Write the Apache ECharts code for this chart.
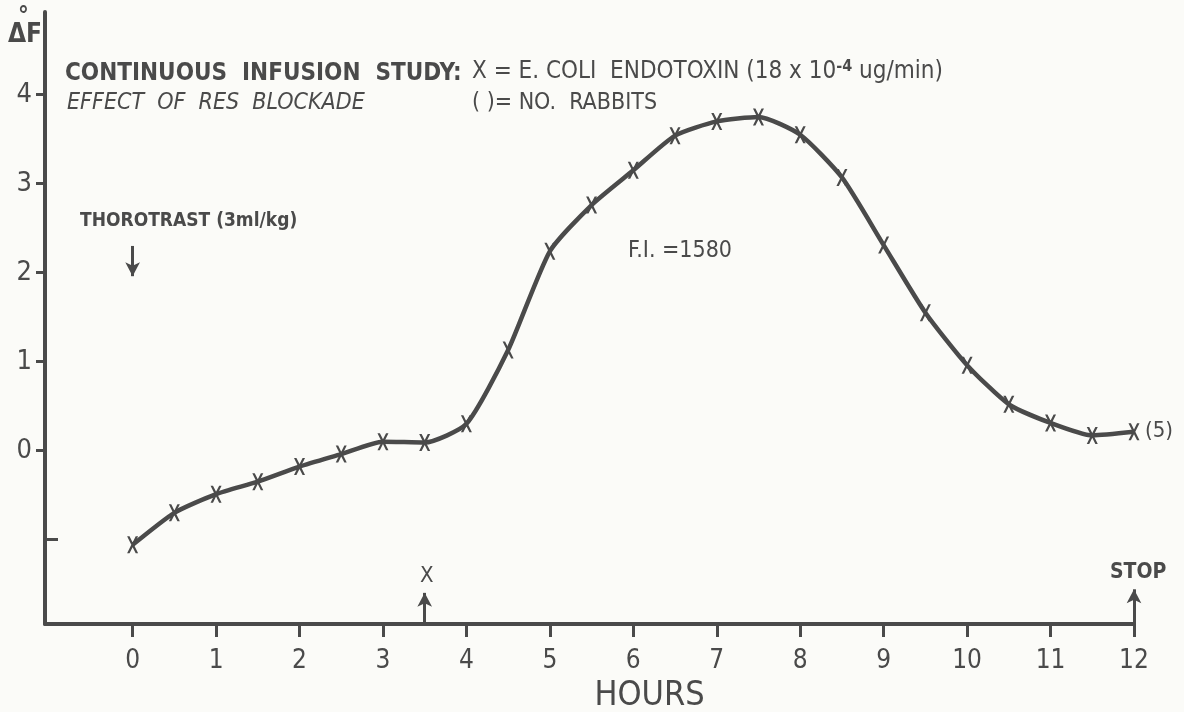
<!DOCTYPE html>
<html>
<head>
<meta charset="utf-8">
<script src="https://cdn.jsdelivr.net/npm/echarts@6/dist/echarts.min.js"></script>
<style>
html,body{margin:0;padding:0;background:#fbfbf8;}
#chart{width:1184px;height:712px;}
</style>
</head>
<body>
<div id="chart"></div>
<script>
// ---- data ----
const hours = [0,0.5,1,1.5,2,2.5,3,3.5,4,4.5,5,5.5,6,6.5,7,7.5,8,8.5,9,9.5,10,10.5,11,11.5,12];
const deltaF = [-1.06,-0.70,-0.49,-0.35,-0.18,-0.04,0.10,0.09,0.30,1.13,2.24,2.76,3.15,3.54,3.70,3.75,3.55,3.07,2.31,1.55,0.96,0.52,0.31,0.17,0.21];
const xTicks = [0,1,2,3,4,5,6,7,8,9,10,11,12];
const yTicks = [0,1,2,3,4];
const yExtraTick = [-1];
const endotoxinStart = 3.5;
const stopHour = 12;
const thorotrastHour = 0;

const INK = '#4a4a4a';
const FONT = "'Liberation Sans Narrow','DejaVu Sans Condensed','Roboto Condensed',Roboto,sans-serif";

const chart = echarts.init(document.getElementById('chart'), null, {renderer:'canvas'});
const Xsym = 'path://M0,0 L2.2,0 L5,5 L7.8,0 L10,0 L6.2,7 L10,14 L7.8,14 L5,9 L2.2,14 L0,14 L3.8,7 Z';

const option = {
  backgroundColor: '#fbfbf8',
  animation: false,
  grid: {left: 45, right: 50, top: 12, bottom: 88, containLabel: false, outerBoundsMode: 'none'},
  xAxis: {
    type: 'value', min: -1.05, max: 12,
    axisLine: {show: true, onZero: false, lineStyle: {color: INK, width: 4}},
    axisTick: {show: true, customValues: xTicks, length: 13, lineStyle: {color: INK, width: 3}},
    axisLabel: {customValues: xTicks, color: INK, fontFamily: FONT, fontSize: 26, margin: 24},
    splitLine: {show: false},
    name: 'HOURS', nameLocation: 'middle', nameGap: 51,
    nameTextStyle: {color: INK, fontFamily: FONT, fontSize: 34, padding: [0,0,0,120]}
  },
  yAxis: [{
    type: 'value', min: -1.95, max: 4.93,
    axisLine: {show: true, onZero: false, lineStyle: {color: INK, width: 4}},
    axisTick: {show: true, customValues: yTicks, length: 9, lineStyle: {color: INK, width: 3}},
    axisLabel: {customValues: yTicks, color: INK, fontFamily: FONT, fontSize: 27, margin: 13},
    splitLine: {show: false}
  },{
    type: 'value', min: -1.95, max: 4.93, position: 'left',
    axisLine: {show: false, onZero: false},
    axisTick: {show: true, inside: true, customValues: yExtraTick, length: 13, lineStyle: {color: INK, width: 3}},
    axisLabel: {show: false},
    splitLine: {show: false}
  }],
  series: [{
    type: 'line',
    data: hours.map((h,i)=>[h, deltaF[i]]),
    smooth: 0.2,
    symbol: Xsym,
    symbolSize: [11, 17],
    showAllSymbol: true,
    lineStyle: {color: INK, width: 4.5},
    itemStyle: {color: INK, borderWidth: 0},
    z: 3,
    markLine: {
      silent: true,
      symbol: ['none','arrow'],
      symbolSize: [11, 14],
      label: {show: false},
      lineStyle: {color: INK, width: 3, type: 'solid'},
      data: [
        [{coord: [endotoxinStart, -1.95]}, {coord: [endotoxinStart, -1.6]}],
        [{coord: [stopHour, -1.95]}, {coord: [stopHour, -1.56]}],
        [{coord: [thorotrastHour, 2.3]}, {coord: [thorotrastHour, 1.96]}]
      ]
    }
  }],
  graphic: [
    {type:'text', left: 18, top: 6, style:{text:'°', font:`bold 24px ${FONT}`, fill: INK}},
    {type:'text', left: 8, top: 22, style:{text:'ΔF', font:`bold 26px ${FONT}`, fill: INK}},
    {type:'text', left: 65, top: 62, style:{text:'CONTINUOUS  INFUSION  STUDY:', font:`bold 24px ${FONT}`, fill: INK}},
    {type:'text', left: 67, top: 92, style:{text:'EFFECT  OF  RES  BLOCKADE', font:`italic 23px ${FONT}`, fill: INK}},
    {type:'text', left: 472, top: 59, style:{
      rich: {
        a: {fontSize: 24, fontFamily: FONT, fill: INK},
        s: {fontSize: 16, fontFamily: FONT, fill: INK, fontWeight:'bold', verticalAlign:'top', padding:[0,0,10,0]}
      },
      text: '{a|X = E. COLI  ENDOTOXIN (18 x 10}{s|-4}{a| ug/min)}'
    }},
    {type:'text', left: 472, top: 92, style:{text:'( )= NO.  RABBITS', font:`23px ${FONT}`, fill: INK}},
    {type:'text', left: 80, top: 212, style:{text:'THOROTRAST (3ml/kg)', font:`bold 19px ${FONT}`, fill: INK}},
    {type:'text', left: 628, top: 240, style:{text:'F.I. =1580', font:`23px ${FONT}`, fill: INK}},
    {type:'text', left: 420, top: 565, style:{text:'X', font:`22px ${FONT}`, fill: INK}},
    {type:'text', left: 1110, top: 562, style:{text:'STOP', font:`bold 21px ${FONT}`, fill: INK}},
    {type:'text', left: 1145, top: 420, style:{text:'(5)', font:`22px ${FONT}`, fill: INK}}
  ]
};
chart.setOption(option);
</script>
</body>
</html>
